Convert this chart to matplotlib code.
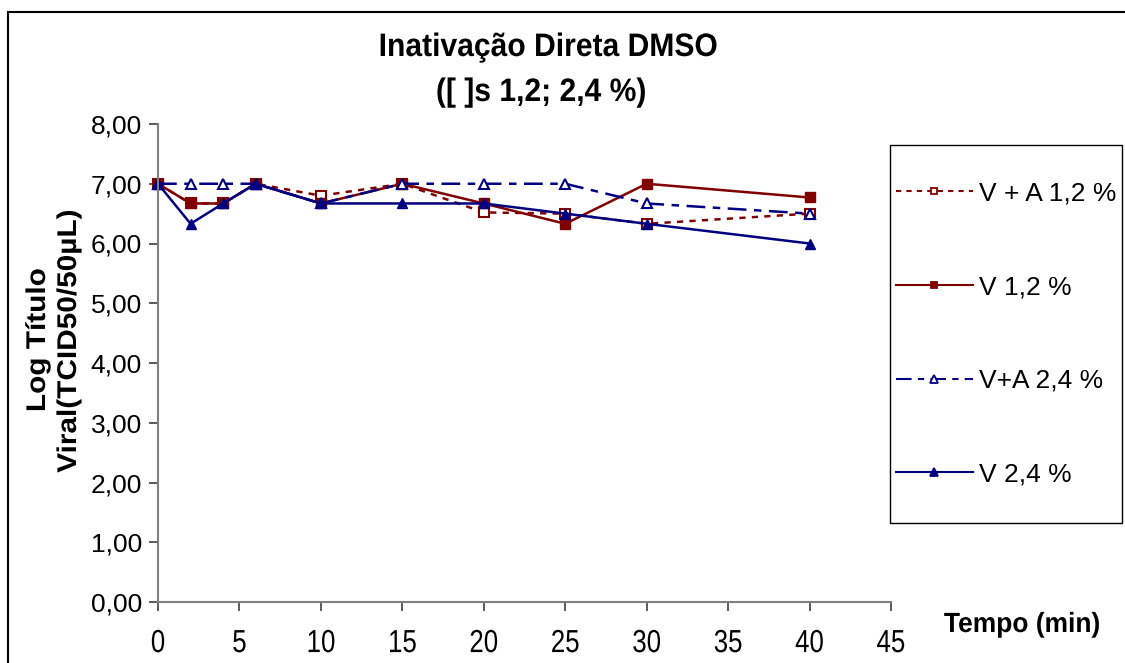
import matplotlib
matplotlib.use("Agg")
import matplotlib.pyplot as plt
from matplotlib.patches import Rectangle
from matplotlib.lines import Line2D
from matplotlib.patheffects import AbstractPathEffect
from matplotlib.transforms import Affine2D

time_min = [0, 2, 4, 6, 10, 15, 20, 25, 30, 40]
va_12 = [7.00, 6.67, 6.67, 7.00, 6.80, 7.00, 6.52, 6.50, 6.33, 6.50]
v_12 = [7.00, 6.67, 6.67, 7.00, 6.67, 7.00, 6.67, 6.33, 7.00, 6.77]
va_24 = [7.00, 7.00, 7.00, 7.00, 6.67, 7.00, 7.00, 7.00, 6.67, 6.50]
v_24 = [7.00, 6.33, 6.67, 7.00, 6.67, 6.67, 6.67, 6.50, 6.33, 6.00]
series_labels = ["V + A 1,2 %", "V 1,2 %", "V+A 2,4 %", "V 2,4 %"]
x_ticks = [0, 5, 10, 15, 20, 25, 30, 35, 40, 45]
y_ticks = [0, 1, 2, 3, 4, 5, 6, 7, 8]
y_tick_labels = ["0,00", "1,00", "2,00", "3,00", "4,00", "5,00", "6,00", "7,00", "8,00"]
title_line1 = "Inativação Direta DMSO"
title_line2 = "([ ]s 1,2; 2,4 %)"
ylabel_line1 = "Log Título"
ylabel_line2 = "Viral(TCID50/50µL)"
xlabel_text = "Tempo (min)"

FONT = ["Liberation Sans", "DejaVu Sans"]


class Condense(AbstractPathEffect):
    """Scale glyphs along the text direction around their own centre."""

    def __init__(self, sx):
        super().__init__(offset=(0, 0))
        self.sx = sx

    def draw_path(self, renderer, gc, tpath, affine, rgbFace=None):
        ext = tpath.get_extents()
        cx = (ext.x0 + ext.x1) / 2
        a = Affine2D().translate(-cx, 0).scale(self.sx, 1).translate(cx, 0) + affine
        renderer.draw_path(gc, tpath, a, rgbFace)


W, H = 1125, 663
fig = plt.figure(figsize=(W / 100, H / 100), dpi=100)
fig.patch.set_facecolor("white")

L, R, B, T = 158, 891, 602, 124
ax = fig.add_axes([L / W, 1 - B / H, (R - L) / W, (B - T) / H])

RED = "#800000"
NAVY = "#000080"

styles = [
    dict(color=RED, linestyle=(0, (2.5, 2.5)), marker="s", mfc="white", mec=RED, ms=6.5, mew=1.5),
    dict(color=RED, linestyle="-", marker="s", mfc=RED, mec=RED, ms=6.5, mew=1.0),
    dict(color=NAVY, linestyle=(0, (7.5, 3, 3, 3)), marker="^", mfc="white", mec=NAVY, ms=7, mew=1.5),
    dict(color=NAVY, linestyle="-", marker="^", mfc=NAVY, mec=NAVY, ms=7.5, mew=1.0),
]
data = [va_12, v_12, va_24, v_24]
handles = []
for vals, st, lab in zip(data, styles, series_labels):
    ax.plot(time_min, vals, lw=1.8, label=lab, clip_on=False, **st)
    handles.append(Line2D([], [], lw=1.5, color=st["color"], linestyle=st["linestyle"],
                          marker=st["marker"], mfc=st["mfc"], mec=st["mec"],
                          ms=st["ms"] * 0.75, mew=1.3))

ax.set_xlim(0, 45)
ax.set_ylim(0, 8)
ax.set_xticks(x_ticks)
ax.set_xticklabels([str(v) for v in x_ticks], family=FONT, fontsize=23)
ax.set_yticks(y_ticks)
ax.set_yticklabels(y_tick_labels, family=FONT, fontsize=19)
for t in ax.get_xticklabels():
    t.set_path_effects([Condense(0.81)])
for s in ["top", "right"]:
    ax.spines[s].set_visible(False)
for s in ["left", "bottom"]:
    ax.spines[s].set_color("#808080")
    ax.spines[s].set_linewidth(1.5)
ax.tick_params(axis="both", direction="out", length=6.5, width=1.2, color="#404040")
ax.tick_params(axis="x", pad=13)
ax.tick_params(axis="y", pad=5)

# title (two lines)
fig.text(548 / W, 1 - 56 / H, title_line1, ha="center", va="baseline", fontsize=23.4,
         fontweight="bold", family=FONT, path_effects=[Condense(0.925)])
fig.text(541 / W, 1 - 101 / H, title_line2, ha="center", va="baseline", fontsize=23.4,
         fontweight="bold", family=FONT, path_effects=[Condense(0.925)])

# y label (two rotated lines)
fig.text(45 / W, 1 - 340 / H, ylabel_line1, ha="center", va="baseline", rotation=90,
         rotation_mode="anchor", fontsize=19.5, fontweight="bold", family=FONT,
         path_effects=[Condense(1.1)])
fig.text(76 / W, 1 - 341 / H, ylabel_line2, ha="center", va="baseline", rotation=90,
         rotation_mode="anchor", fontsize=19.5, fontweight="bold", family=FONT,
         path_effects=[Condense(1.1)])

# x label
fig.text(1022 / W, 1 - 632 / H, xlabel_text, ha="center", va="baseline", fontsize=20,
         fontweight="bold", family=FONT, path_effects=[Condense(0.95)])

# legend box
fig.patches.append(Rectangle((890 / W, 1 - 523 / H), (1122 - 890) / W, (523 - 145) / H,
                             transform=fig.transFigure, fill=False, edgecolor="black", lw=1.0))
fig.legend(handles=handles, labels=series_labels, loc="center left",
           bbox_to_anchor=(896 / W, 1 - 334 / H), frameon=False,
           prop={"family": FONT, "size": 19},
           handlelength=2.9, handletextpad=0.25, labelspacing=2.64, borderpad=0,
           borderaxespad=0)

# outer figure border
fig.patches.append(Rectangle((8 / W, -0.05), 1.2, 1 - 12 / H + 0.05, transform=fig.transFigure,
                             fill=False, edgecolor="black", lw=1.5, clip_on=False))

fig.savefig("out.png", dpi=100)
